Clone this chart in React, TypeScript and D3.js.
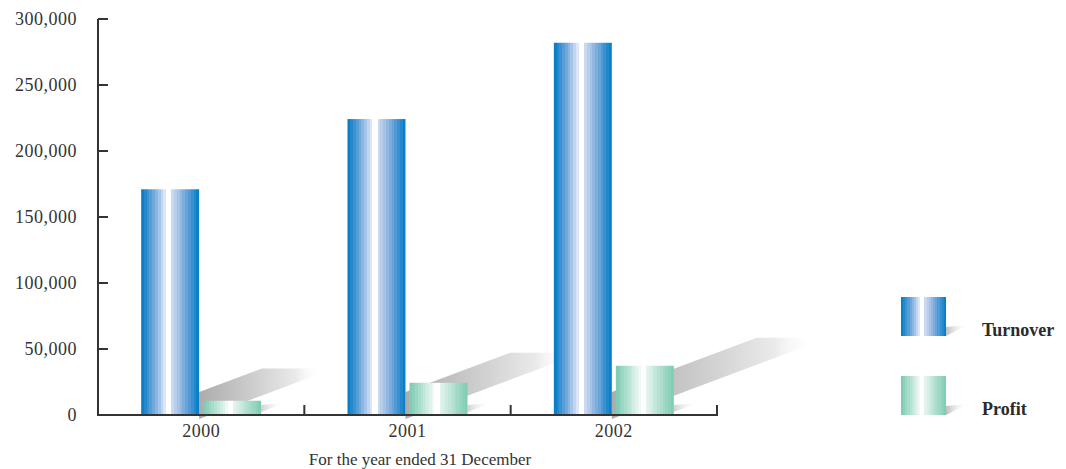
import React from "react";
import * as d3 from "d3";

const years = ["2000", "2001", "2002"];
const seriesNames = ["Turnover", "Profit"];
const turnover = [171000, 224200, 282000];
const profit = [10800, 24400, 37300];
const yTicks = [0, 50000, 100000, 150000, 200000, 250000, 300000];
const xTitle = "For the year ended 31 December";

const W = 1066;
const H = 469;
const X0 = 98;
const X1 = 717;
const Y0 = 415;
const YT = 19;

function stepStops(left: string[], right: string[], whiteA: number, whiteB: number) {
  const stops: { o: number; c: string }[] = [];
  const n = left.length;
  for (let i = 0; i < n; i++) {
    const a = (whiteA * i) / n;
    const b = (whiteA * (i + 1)) / n;
    stops.push({ o: a, c: left[i] }, { o: b, c: left[i] });
  }
  stops.push({ o: whiteA, c: "#ffffff" }, { o: whiteB, c: "#ffffff" });
  const m = right.length;
  for (let i = 0; i < m; i++) {
    const a = whiteB + ((1 - whiteB) * i) / m;
    const b = whiteB + ((1 - whiteB) * (i + 1)) / m;
    stops.push({ o: a, c: right[i] }, { o: b, c: right[i] });
  }
  return stops;
}

function ramp(colors: string[], n: number) {
  const interp = d3.interpolateRgbBasis(colors);
  return d3.range(n).map((i) => interp(i / (n - 1)));
}

const blueLeft = ramp(["#0a7fc8", "#6fa2d8", "#dbe7f7"], 9);
const blueRight = ramp(["#c9d9f0", "#78a6da", "#0a80c9"], 10);
const greenLeft = ramp(["#80ccb4", "#b5e1d3", "#eef8f5"], 9);
const greenRight = ramp(["#e2f3ed", "#b0dfd0", "#82cdb6"], 10);

export default function App() {
  const x = d3.scaleBand<string>().domain(years).range([X0, X1]).paddingInner(0).paddingOuter(0);
  const xs = d3
    .scaleBand<string>()
    .domain(seriesNames)
    .range([0, x.bandwidth()])
    .paddingInner(0.065)
    .paddingOuter(0.696);
  const y = d3.scaleLinear().domain([0, 300000]).range([Y0, YT]);
  const fmt = d3.format(",");
  const bw = xs.bandwidth();

  const blueStops = stepStops(blueLeft, blueRight, 0.43, 0.52);
  const greenStops = stepStops(greenLeft, greenRight, 0.43, 0.52);

  const slope = 0.375;
  const thick = 27;

  return (
    <svg width={W} height={H} style={{ position: "absolute", left: 0, top: 0 }}>
      <defs>
        <linearGradient id="gBlue" x1="0" x2="1" y1="0" y2="0">
          {blueStops.map((s, i) => (
            <stop key={i} offset={s.o} stopColor={s.c} />
          ))}
        </linearGradient>
        <linearGradient id="gGreen" x1="0" x2="1" y1="0" y2="0">
          {greenStops.map((s, i) => (
            <stop key={i} offset={s.o} stopColor={s.c} />
          ))}
        </linearGradient>
        <linearGradient id="gShadow" x1="0" x2="1" y1="0" y2="0">
          <stop offset="0" stopColor="#acacac" />
          <stop offset="0.5" stopColor="#d2d2d2" />
          <stop offset="0.8" stopColor="#eaeaea" />
          <stop offset="1" stopColor="#ffffff" stopOpacity="0" />
        </linearGradient>
        <linearGradient id="gLegShadow" x1="0" x2="1" y1="0" y2="0">
          <stop offset="0" stopColor="#bdbdbd" />
          <stop offset="1" stopColor="#ffffff" stopOpacity="0" />
        </linearGradient>
      </defs>

      {/* shadows */}
      {years.map((yr, i) => {
        const bx = (x(yr) as number) + (xs("Turnover") as number);
        const sx = bx + bw;
        const sy = Y0 - 23;
        const pH = Y0 - y(profit[i]);
        const top = Y0 - (34 + 0.88 * pH);
        const cx = sx + (sy - top) / slope;
        const endX = cx + 58;
        const pts: [number, number][] = [
          [sx, sy],
          [cx, top],
          [endX, top],
          [endX - 2, top + 6],
          [sx + (sy + thick - top - 6) / slope + 0, top + 6],
          [sx, sy + thick],
        ];
        const px = (x(yr) as number) + (xs("Profit") as number) + bw;
        return (
          <g key={"sh" + yr}>
            <polygon points={pts.map((p) => p.join(",")).join(" ")} fill="url(#gShadow)" />
            <polygon
              points={`${px},${Y0 - 3} ${px},${Y0 - 10} ${px + 24},${Y0 - 12}`}
              fill="url(#gLegShadow)"
              opacity={0.7}
            />
          </g>
        );
      })}

      {/* bars */}
      {years.map((yr, i) => (
        <g key={yr}>
          <rect
            x={(x(yr) as number) + (xs("Turnover") as number)}
            y={y(turnover[i])}
            width={bw}
            height={Y0 - y(turnover[i])}
            fill="url(#gBlue)"
          />
          <rect
            x={(x(yr) as number) + (xs("Profit") as number)}
            y={y(profit[i])}
            width={bw}
            height={Y0 - y(profit[i])}
            fill="url(#gGreen)"
          />
        </g>
      ))}

      {/* axes */}
      <g stroke="#333" strokeWidth={2} fill="none">
        <path d={`M${X0},${YT} V${Y0} H${X1} V${Y0 - 10}`} />
        {yTicks.map((t) => (
          <line key={t} x1={X0} x2={X0 + 10} y1={y(t)} y2={y(t)} />
        ))}
        {years.map((yr) => (
          <line
            key={"xt" + yr}
            x1={(x(yr) as number) + x.bandwidth()}
            x2={(x(yr) as number) + x.bandwidth()}
            y1={Y0}
            y2={Y0 - 10}
          />
        ))}
      </g>

      <g fontFamily="'Liberation Serif', serif" fontSize={18} fill="#333">
        {yTicks.map((t) => (
          <text key={t} x={77} y={y(t) + 6} textAnchor="end" letterSpacing={0.5}>
            {fmt(t)}
          </text>
        ))}
        {years.map((yr) => (
          <text
            key={"xl" + yr}
            x={(x(yr) as number) + x.bandwidth() / 2}
            y={437}
            textAnchor="middle"
            letterSpacing={0.5}
          >
            {yr}
          </text>
        ))}
        <text x={420} y={465} textAnchor="middle" fontSize={17}>
          {xTitle}
        </text>
      </g>

      {/* legend */}
      {seriesNames.map((s, i) => {
        const ly = 297 + i * 79;
        return (
          <g key={"lg" + s}>
            <polygon
              points={`946,${ly + 39} 946,${ly + 30} 968,${ly + 28}`}
              fill="url(#gLegShadow)"
            />
            <rect x={901} y={ly} width={45} height={39} fill={i === 0 ? "url(#gBlue)" : "url(#gGreen)"} />
            <text
              x={982}
              y={ly + 39}
              fontFamily="'Liberation Serif', serif"
              fontWeight="bold"
              fontSize={18}
              fill="#2a2a2a"
            >
              {s}
            </text>
          </g>
        );
      })}
    </svg>
  );
}
